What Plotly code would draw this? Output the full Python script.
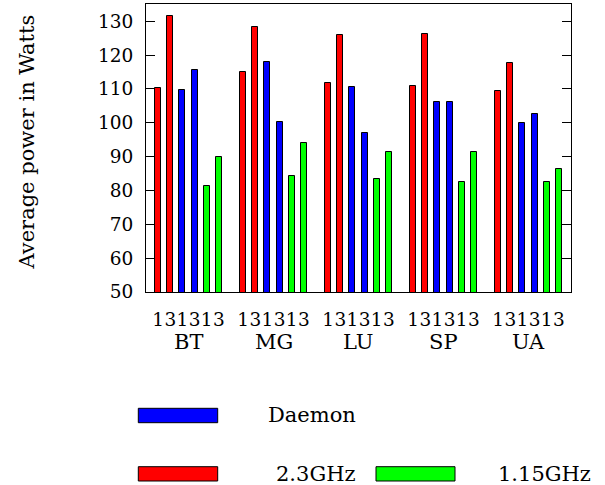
import plotly.graph_objects as go

# ---- data ----
groups = ["BT", "MG", "LU", "SP", "UA"]
run_labels = ["1", "3"]
freq_2_3 = [110.2, 131.6, 114.9, 128.3, 111.7, 125.9, 110.8, 126.2, 109.5, 117.8]
daemon = [109.8, 115.6, 117.9, 100.1, 110.6, 96.9, 106.1, 106.0, 99.8, 102.5]
freq_1_15 = [81.2, 89.8, 84.3, 93.9, 83.5, 91.4, 82.5, 91.4, 82.5, 86.3]
y_ticks = [50, 60, 70, 80, 90, 100, 110, 120, 130]
series_names = ["2.3GHz", "Daemon", "1.15GHz"]
series_colors = ["#ff0000", "#0000ff", "#00ff00"]

FONT = "DejaVu Serif"
FS_TICK = 18.5
FS_TEXT = 21
W, H = 605, 485
L, R, T, B = 146, 34, 4, 193
PW, PH = W - L - R, H - T - B

n_series = 3
slots = n_series * len(run_labels) + 1  # bars per cluster + gap

def positions(series_idx):
    xs = []
    for g in range(len(groups)):
        for r in range(len(run_labels)):
            xs.append(g * slots + series_idx * len(run_labels) + r)
    return xs

fig = go.Figure()
for si, (vals, col, name) in enumerate(zip([freq_2_3, daemon, freq_1_15], series_colors, series_names)):
    fig.add_trace(go.Bar(
        x=positions(si), y=vals, width=0.5, name=name,
        marker=dict(color=col, line=dict(color="black", width=1)),
        showlegend=False, hoverinfo="skip",
    ))

# x tick labels: one label per bar
tickvals, ticktext = [], []
for g in range(len(groups)):
    for si in range(n_series):
        for r, lab in enumerate(run_labels):
            tickvals.append(g * slots + si * len(run_labels) + r)
            ticktext.append(lab)

fig.update_xaxes(
    range=[-1, len(groups) * slots - 1],
    tickvals=tickvals, ticktext=ticktext, ticks="", tickangle=0,
    showline=True, linecolor="black", linewidth=1, mirror=True,
    showgrid=False, zeroline=False, automargin=False,
    tickfont=dict(family=FONT, size=FS_TICK, color="black"),
    ticklabelstandoff=11,
)
fig.update_yaxes(
    range=[50, 135.1], tickvals=y_ticks,
    ticks="inside", ticklen=9, tickcolor="black", tickwidth=1,
    showline=True, linecolor="black", linewidth=1, mirror="ticks",
    showgrid=False, zeroline=False, automargin=False,
    tickfont=dict(family=FONT, size=FS_TICK, color="black"),
    ticklabelstandoff=8,
)

annotations = []
for g, name in enumerate(groups):
    annotations.append(dict(
        x=g * slots + (n_series * len(run_labels) - 1) / 2, xref="x",
        y=0, yref="paper", yanchor="middle", yshift=-50,
        text=name, showarrow=False,
        font=dict(family=FONT, size=FS_TEXT, color="black"),
    ))

def px(x):
    return (x - L) / PW

def py(y):
    return (H - B - y) / PH

annotations.append(dict(
    x=px(26), y=py(142.5), xref="paper", yref="paper",
    text="Average power in Watts", textangle=-90, showarrow=False,
    font=dict(family=FONT, size=FS_TEXT, color="black"),
    xanchor="center", yanchor="middle",
))

# legend (drawn manually to match layout)
legend_items = [
    ("Daemon", series_colors[1], 138.3, 217.7, 408.3, 422.7, 357.7, 415),
    ("2.3GHz", series_colors[0], 138.3, 217.7, 466.7, 481.0, 357.7, 474),
    ("1.15GHz", series_colors[2], 376.0, 455.0, 466.7, 481.0, 593.3, 474),
]
shapes = []
for text, col, x0, x1, y0, y1, tx, ty in legend_items:
    shapes.append(dict(
        type="rect", xref="paper", yref="paper",
        x0=px(x0), x1=px(x1), y0=py(y1), y1=py(y0),
        fillcolor=col, line=dict(color="black", width=1),
    ))
    annotations.append(dict(
        x=px(tx), y=py(ty), xref="paper", yref="paper",
        xanchor="right", yanchor="middle", text=text, showarrow=False,
        font=dict(family=FONT, size=FS_TEXT, color="black"),
    ))

fig.update_layout(
    width=W, height=H,
    margin=dict(l=L, r=R, t=T, b=B, pad=0, autoexpand=False),
    paper_bgcolor="white", plot_bgcolor="white",
    bargap=0, barmode="overlay",
    annotations=annotations, shapes=shapes,
    showlegend=False,
)

fig.write_html(
    "out.html",
    config={"displayModeBar": False},
    post_script="document.body.style.margin='0';document.body.style.padding='0';",
)
